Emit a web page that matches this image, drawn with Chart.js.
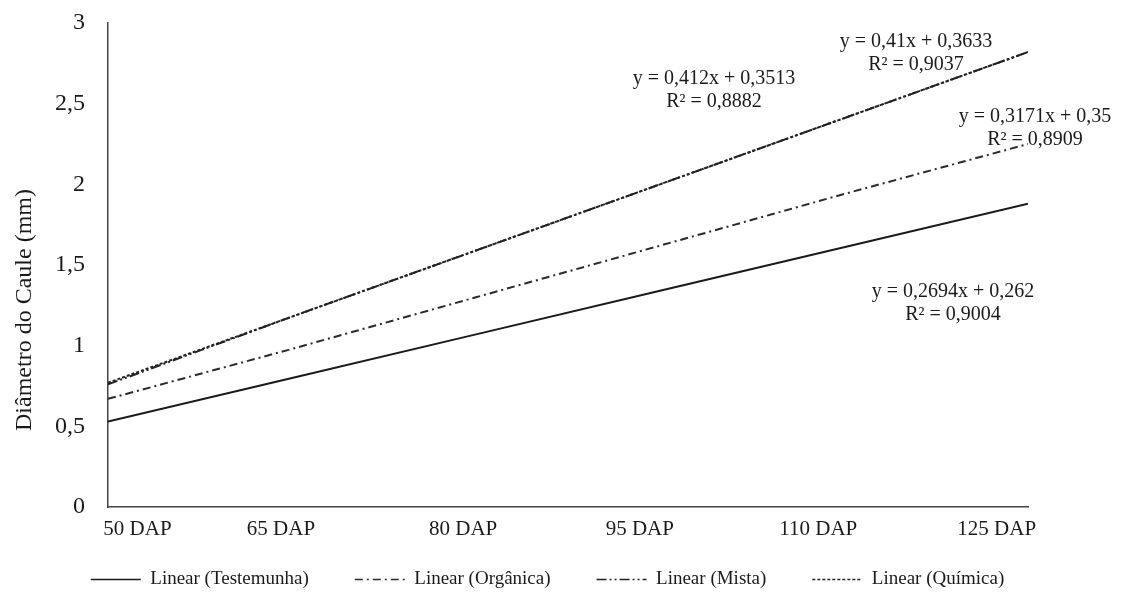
<!DOCTYPE html>
<html>
<head>
<meta charset="utf-8">
<script src="https://cdn.jsdelivr.net/npm/chart.js@4"></script>
<style>
  html, body { margin: 0; padding: 0; background: #fff; }
  #wrap { width: 1123px; height: 601px; }
</style>
</head>
<body>
<div id="wrap"><canvas id="myChart" width="1123" height="601"></canvas></div>
<script>
// data
const categories = ['50 DAP', '65 DAP', '80 DAP', '95 DAP', '110 DAP', '125 DAP'];
const testemunha = [0.53, 0.80, 1.07, 1.34, 1.61, 1.88];
const organica   = [0.67, 0.98, 1.30, 1.62, 1.94, 2.25];
const mista      = [0.76, 1.18, 1.59, 2.00, 2.41, 2.82];
const quimica    = [0.77, 1.18, 1.59, 2.00, 2.41, 2.82];
const yTicks = [0, 0.5, 1, 1.5, 2, 2.5, 3];

const equations = [
    { lines: ['y = 0,412x + 0,3513', 'R² = 0,8882'], x: 714, y: 79 },
    { lines: ['y = 0,41x + 0,3633', 'R² = 0,9037'], x: 916, y: 42 },
    { lines: ['y = 0,3171x + 0,35', 'R² = 0,8909'], x: 1035, y: 117 },
    { lines: ['y = 0,2694x + 0,262', 'R² = 0,9004'], x: 953, y: 292 }
];
const yTitle = 'Diâmetro do Caule (mm)';

// where the category labels sit along the axis (in category units)
const labelPos = [0.16, 0.94, 1.93, 2.89, 3.86, 4.83];

const serif = 'Liberation Serif, Times New Roman, serif';
const ink = '#1a1a1a';
const boxW = 70;      // legend box incl. gap before the sample
const sampleW = 50;

function toPoints(arr) {
    return arr.map((v, i) => ({ x: i, y: v }));
}

// equation texts + rotated y title
const extraText = {
    id: 'extraText',
    afterDraw(chart) {
        const c = chart.ctx;
        c.save();
        c.fillStyle = ink;
        c.font = '20px ' + serif;
        c.textAlign = 'center';
        c.textBaseline = 'middle';
        equations.forEach(eq => {
            eq.lines.forEach((t, k) => c.fillText(t, eq.x, eq.y + k * 23));
        });
        c.font = '24px ' + serif;
        c.translate(25, 310);
        c.rotate(-Math.PI / 2);
        c.fillText(yTitle, 0, 0);
        c.restore();
    }
};

// dashed samples for the legend (built-in point style ignores dashes)
const legendSamples = {
    id: 'legendSamples',
    afterDraw(chart) {
        const boxes = chart.legend.legendHitBoxes;
        const c = chart.ctx;
        c.save();
        chart.data.datasets.forEach((ds, i) => {
            const b = boxes[i];
            if (!b) return;
            const y = b.top + b.height / 2;
            c.beginPath();
            c.setLineDash(ds.borderDash);
            c.lineWidth = 1.6;
            c.strokeStyle = ds.borderColor;
            c.moveTo(b.left + boxW - sampleW, y);
            c.lineTo(b.left + boxW, y);
            c.stroke();
        });
        c.restore();
    }
};

function noPad(axis) {
    axis.paddingTop = 0;
    axis.paddingBottom = 0;
}

const ctx = document.getElementById('myChart').getContext('2d');
const myChart = new Chart(ctx, {
    type: 'line',
    data: {
        datasets: [{
            label: 'Linear (Testemunha)',
            data: toPoints(testemunha),
            borderColor: ink,
            borderWidth: 2,
            borderDash: []
        }, {
            label: 'Linear (Orgânica)',
            data: toPoints(organica),
            borderColor: '#2a2a2a',
            borderWidth: 2,
            borderDash: [8, 4, 2, 4]
        }, {
            label: 'Linear (Mista)',
            data: toPoints(mista),
            borderColor: '#222',
            borderWidth: 2,
            borderDash: [10, 3, 2, 3, 2, 3]
        }, {
            label: 'Linear (Química)',
            data: toPoints(quimica),
            borderColor: '#222',
            borderWidth: 2,
            borderDash: [3, 2]
        }]
    },
    options: {
        responsive: false,
        animation: false,
        elements: {
            point: { radius: 0 },
            line: { tension: 0, fill: false }
        },
        layout: {
            padding: { top: 23, right: 48, bottom: 2, left: 0 }
        },
        plugins: {
            legend: {
                position: 'bottom',
                labels: {
                    usePointStyle: true,
                    pointStyle: 'line',
                    pointStyleWidth: boxW,
                    color: ink,
                    font: { family: serif, size: 19 },
                    padding: 26,
                    generateLabels: chart => {
                        const items = Chart.defaults.plugins.legend.labels.generateLabels(chart);
                        items.forEach(it => { it.strokeStyle = 'rgba(0,0,0,0)'; });
                        return items;
                    }
                }
            },
            title: { display: false },
            tooltip: { enabled: false }
        },
        scales: {
            x: {
                type: 'linear',
                min: 0,
                max: 5,
                grid: { display: false },
                border: { display: true, color: '#444', width: 1.5 },
                afterBuildTicks: axis => {
                    axis.ticks = labelPos.map(v => ({ value: v }));
                },
                afterFit: axis => { axis.height = 37; },
                ticks: {
                    autoSkip: false,
                    maxRotation: 0,
                    padding: 2,
                    color: ink,
                    font: { family: serif, size: 21 },
                    callback: (v, i) => categories[i]
                }
            },
            y: {
                min: 0,
                max: 3,
                grid: { display: false },
                border: { display: true, color: '#444', width: 1.5 },
                afterBuildTicks: axis => {
                    axis.ticks = yTicks.map(v => ({ value: v }));
                },
                afterFit: axis => { axis.width = 108; noPad(axis); },
                ticks: {
                    padding: 15,
                    color: ink,
                    font: { family: serif, size: 24 },
                    callback: v => String(v).replace('.', ',')
                }
            },
            spacer: {
                type: 'linear',
                position: 'right',
                grid: { display: false },
                border: { display: false },
                ticks: { display: false },
                afterFit: axis => { axis.width = 47; noPad(axis); }
            }
        }
    },
    plugins: [extraText, legendSamples]
});
</script>
</body>
</html>
